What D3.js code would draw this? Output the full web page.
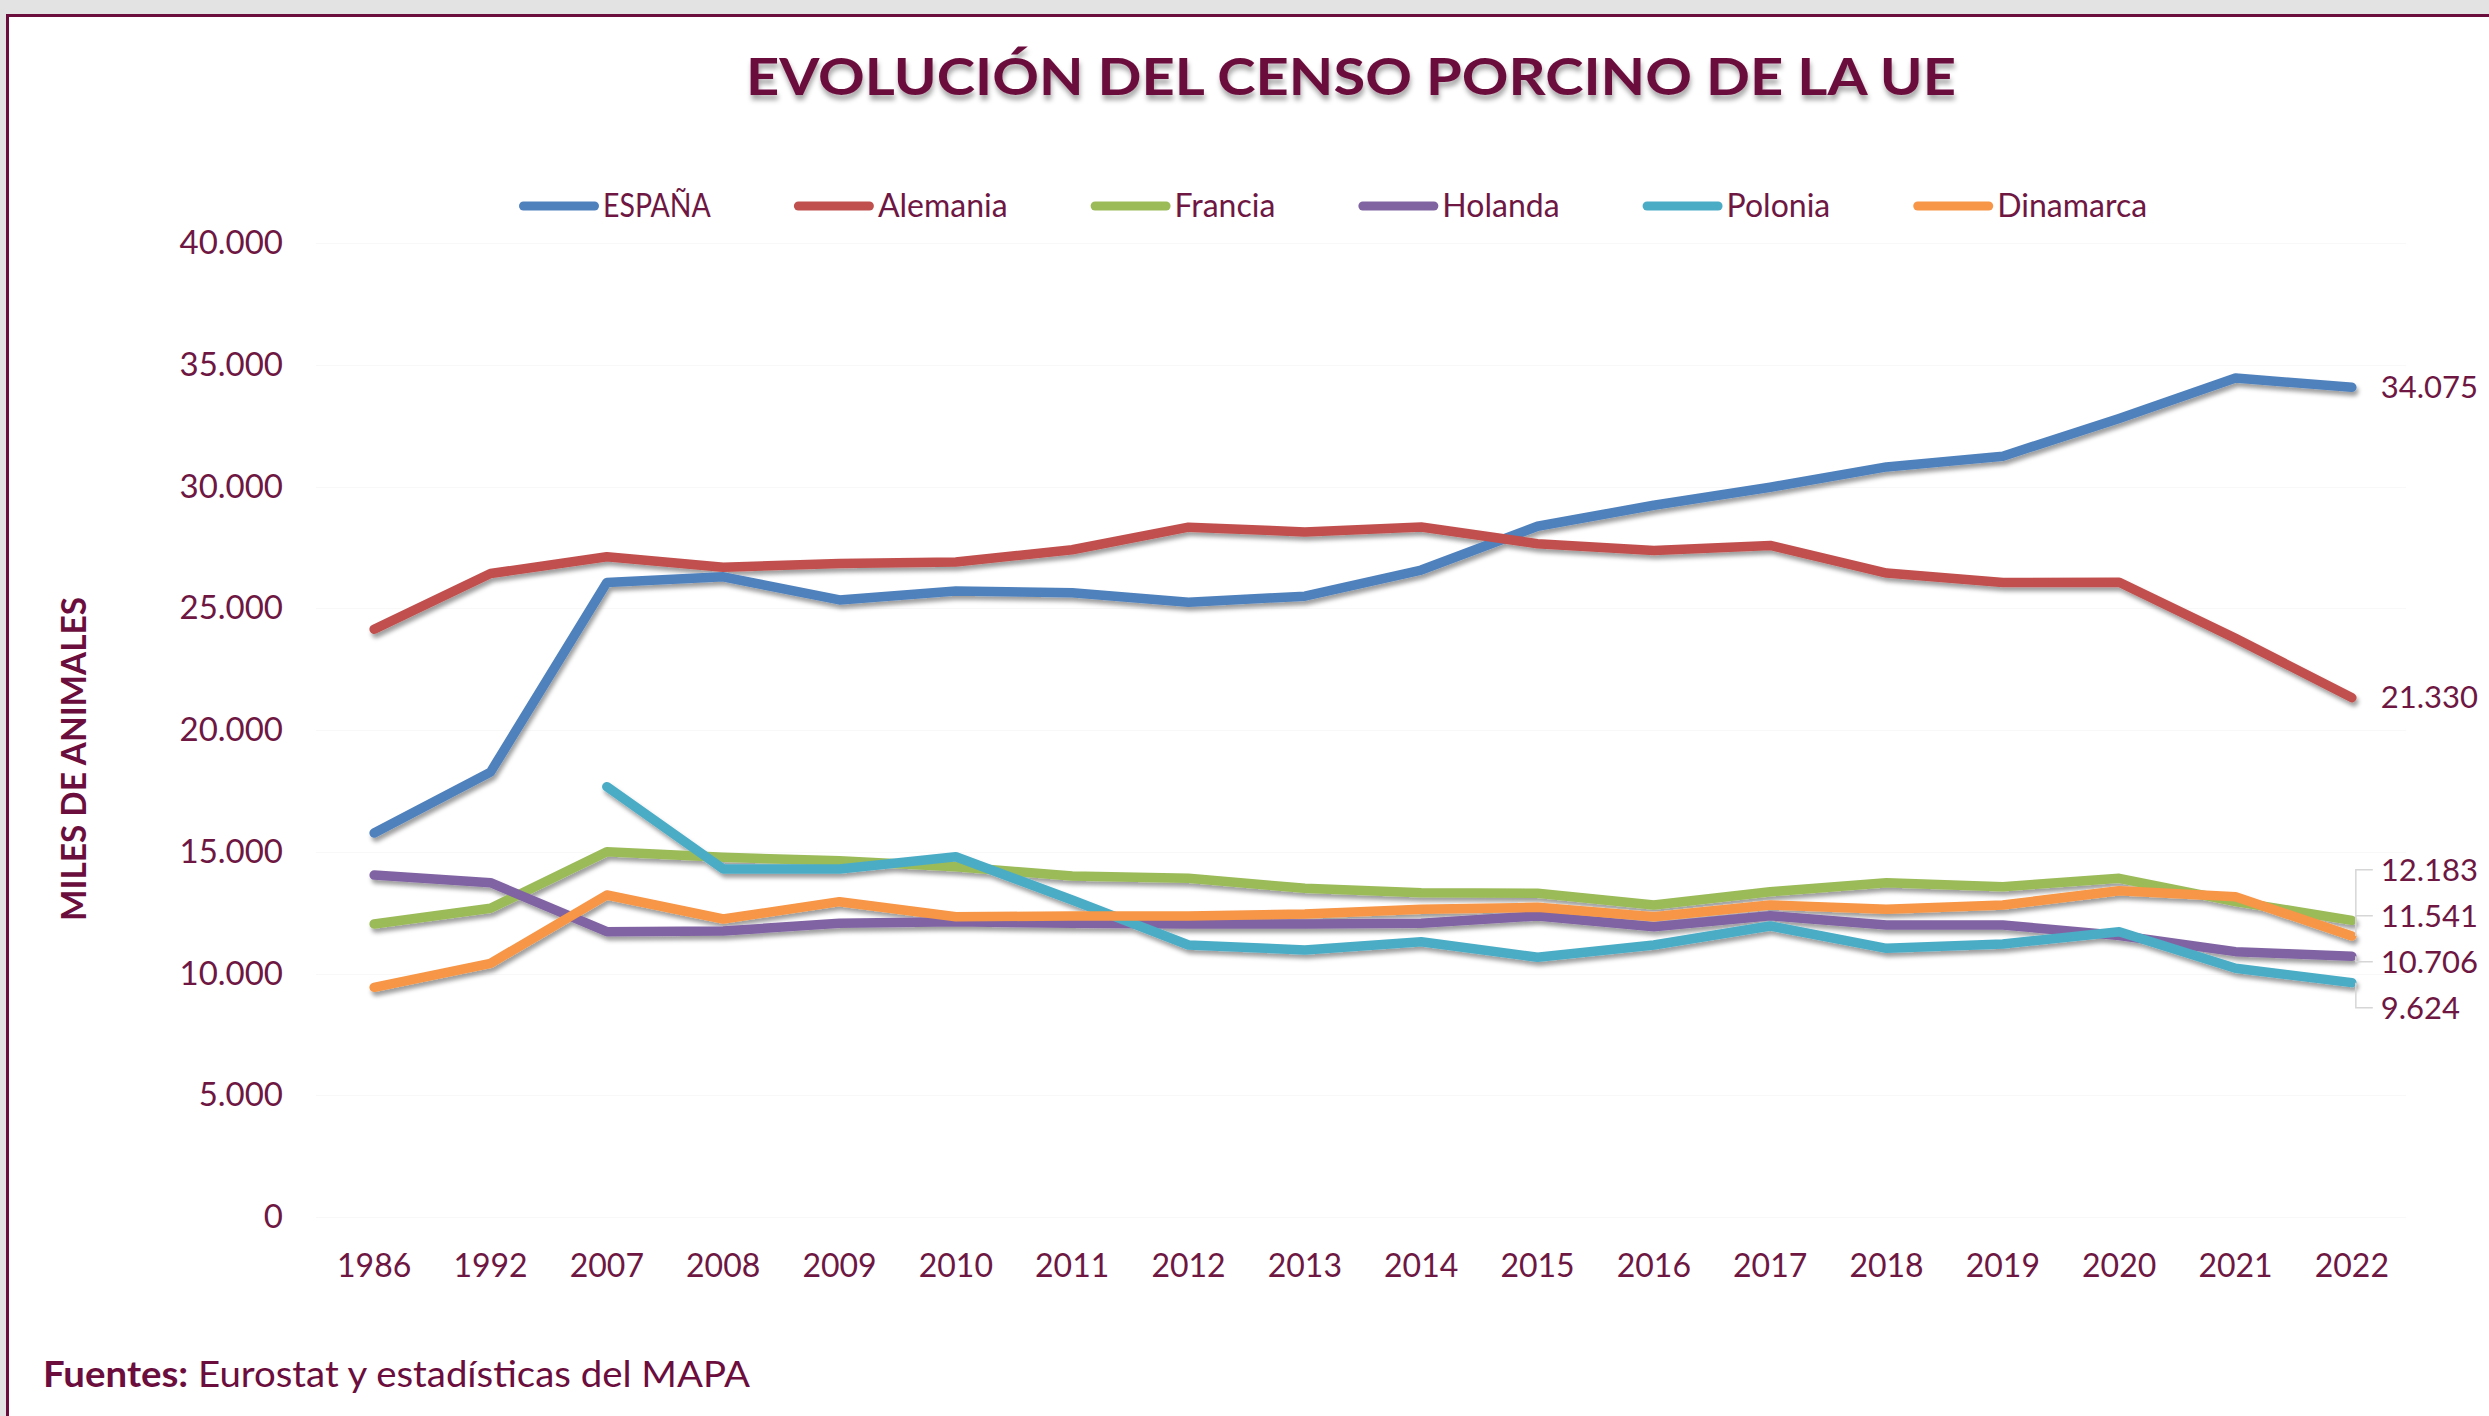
<!DOCTYPE html>
<html>
<head>
<meta charset="utf-8">
<script src="https://cdn.jsdelivr.net/npm/d3@7"></script>
<style>
  html, body { margin: 0; padding: 0; background: #ffffff; }
  svg { display: block; }
  text { font-family: Lato, "Open Sans", sans-serif; }
</style>
</head>
<body>
<svg id="chart" width="2489" height="1416"></svg>
<script>
// ---------- DATA ----------
const years = ["1986","1992","2007","2008","2009","2010","2011","2012","2013","2014","2015","2016","2017","2018","2019","2020","2021","2022"];
const seriesNames = ["ESPAÑA","Alemania","Francia","Holanda","Polonia","Dinamarca"];
const espana    = [15770, 18270, 26061, 26290, 25343, 25704, 25635, 25250, 25495, 26568, 28367, 29232, 29971, 30804, 31246, 32796, 34454, 34075];
const alemania  = [24140, 26426, 27113, 26687, 26841, 26901, 27402, 28331, 28133, 28339, 27652, 27376, 27578, 26445, 26053, 26070, 23762, 21330];
const francia   = [12033, 12677, 15002, 14772, 14632, 14386, 14004, 13909, 13498, 13320, 13292, 12813, 13361, 13729, 13566, 13909, 12950, 12183];
const holanda   = [14045, 13729, 11718, 11745, 12060, 12127, 12060, 12033, 12033, 12060, 12361, 11923, 12375, 11992, 11992, 11561, 10897, 10706];
const polonia   = [null, null, 17672, 14292, 14292, 14797, 13018, 11170, 10965, 11306, 10665, 11170, 11951, 11033, 11211, 11718, 10214, 9624];
const dinamarca = [9433, 10418, 13224, 12238, 12950, 12333, 12361, 12361, 12443, 12636, 12718, 12333, 12813, 12636, 12813, 13402, 13155, 11541];
const seriesValues = [espana, alemania, francia, holanda, polonia, dinamarca];
const seriesColors = ["#4F81BD","#C0504D","#9BBB59","#8064A2","#4BACC6","#F79646"];
const yTicks = [0, 5000, 10000, 15000, 20000, 25000, 30000, 35000, 40000];
const titleText = "EVOLUCIÓN DEL CENSO PORCINO DE LA UE";
const yTitleText = "MILES DE ANIMALES";
const sourceBold = "Fuentes:";
const sourceText = " Eurostat y estadísticas del MAPA";

// ---------- LAYOUT ----------
const maroon = "#6B0E3D";
const textCol = "#6E1743";
const plot = { left: 316, right: 2410, top: 243, bottom: 1217 };

const svg = d3.select("#chart");

const defs = svg.append("defs");
const sh = defs.append("filter").attr("id", "lineShadow")
  .attr("x", "-5%").attr("y", "-20%").attr("width", "110%").attr("height", "140%");
sh.append("feDropShadow").attr("dx", 2).attr("dy", 4).attr("stdDeviation", 2.2)
  .attr("flood-color", "#000").attr("flood-opacity", 0.38);
const tsh = defs.append("filter").attr("id", "titleShadow")
  .attr("x", "-5%").attr("y", "-30%").attr("width", "110%").attr("height", "170%");
tsh.append("feDropShadow").attr("dx", 1).attr("dy", 5).attr("stdDeviation", 2.5)
  .attr("flood-color", "#000").attr("flood-opacity", 0.35);

// frame (window chrome)
svg.append("rect").attr("x", 0).attr("y", 0).attr("width", 2489).attr("height", 14).attr("fill", "#e3e3e3");
svg.append("rect").attr("x", 0).attr("y", 0).attr("width", 6).attr("height", 1416).attr("fill", "#e3e3e3");
svg.append("rect").attr("x", 6).attr("y", 14).attr("width", 2483).attr("height", 3).attr("fill", maroon);
svg.append("rect").attr("x", 6).attr("y", 14).attr("width", 3).attr("height", 1402).attr("fill", maroon);

// scales
const x = d3.scaleBand().domain(years).range([plot.left, plot.right]);
const xc = d => x(d) + x.bandwidth() / 2;
const y = d3.scaleLinear().domain([0, 40000]).range([plot.bottom, plot.top]);
const loc = d3.formatLocale({ decimal: ",", thousands: ".", grouping: [3], currency: ["", "€"] });
const fmt = loc.format(",d");

// gridlines
svg.append("g").selectAll("line").data(yTicks).join("line")
  .attr("x1", plot.left).attr("x2", plot.right - 4)
  .attr("y1", d => Math.round(y(d)) + 0.5).attr("y2", d => Math.round(y(d)) + 0.5)
  .attr("stroke", "#f8f8f8").attr("stroke-width", 1);

// y axis
const yAxis = svg.append("g").attr("transform", `translate(${plot.left},0)`)
  .call(d3.axisLeft(y).tickValues(yTicks).tickFormat(fmt).tickSize(0).tickPadding(33));
yAxis.select(".domain").remove();
yAxis.selectAll("text").attr("font-size", 33).attr("fill", textCol)
  .style("font-family", "Lato, sans-serif");

// x axis
const xAxis = svg.append("g").attr("transform", `translate(0,${plot.bottom})`)
  .call(d3.axisBottom(x).tickSize(0).tickPadding(37));
xAxis.select(".domain").remove();
xAxis.selectAll("text").attr("font-size", 32).attr("fill", textCol)
  .style("font-family", "Lato, sans-serif");

// lines
const line = d3.line()
  .defined(d => d.v != null)
  .x(d => xc(d.year)).y(d => y(d.v));
const series = seriesNames.map((name, i) => ({
  name, color: seriesColors[i],
  points: years.map((yr, j) => ({ year: yr, v: seriesValues[i][j] }))
}));
svg.append("g").attr("filter", "url(#lineShadow)")
  .selectAll("path").data(series).join("path")
  .attr("d", s => line(s.points))
  .attr("fill", "none").attr("stroke", s => s.color)
  .attr("stroke-width", 9.5).attr("stroke-linecap", "round").attr("stroke-linejoin", "round");

// end labels with simple collision avoidance
const lastYear = years[years.length - 1];
const ends = series.map(s => {
  const v = s.points[s.points.length - 1].v;
  return { v, py: y(v) };
}).sort((a, b) => a.py - b.py);
const gap = 46;
let clusters = ends.map(e => ({ items: [e], center: e.py }));
let merged = true;
while (merged) {
  merged = false;
  for (let i = 0; i < clusters.length - 1; i++) {
    const a = clusters[i], b = clusters[i + 1];
    const aBottom = a.center + (a.items.length - 1) * gap / 2;
    const bTop = b.center - (b.items.length - 1) * gap / 2;
    if (bTop - aBottom < gap) {
      const items = a.items.concat(b.items);
      clusters.splice(i, 2, { items, center: d3.mean(items, d => d.py) - 10 });
      merged = true;
      break;
    }
  }
}
clusters.forEach(c => {
  c.items.forEach((it, k) => {
    it.ly = c.center + (k - (c.items.length - 1) / 2) * gap;
    it.leader = c.items.length > 1;
  });
});
const xEnd = xc(lastYear);
const lbl = svg.append("g");
lbl.selectAll("path").data(ends.filter(e => e.leader)).join("path")
  .attr("d", e => `M${xEnd + 4},${e.py}V${e.ly}H${xEnd + 21}`)
  .attr("fill", "none").attr("stroke", "#d6d6d6").attr("stroke-width", 1.5);
lbl.selectAll("text").data(ends).join("text")
  .attr("x", xEnd + 29).attr("y", e => e.ly).attr("dy", "0.35em")
  .attr("font-size", 31).attr("fill", textCol)
  .text(e => fmt(e.v));

// legend
const lg = svg.append("g");
let lx = 519;
const ly = 206;
series.forEach(s => {
  lg.append("line").attr("x1", lx + 4.5).attr("x2", lx + 75.5).attr("y1", ly).attr("y2", ly)
    .attr("stroke", s.color).attr("stroke-width", 9).attr("stroke-linecap", "round");
  const t = lg.append("text").attr("x", lx + 84).attr("y", ly).attr("dy", "0.35em")
    .attr("font-size", 32).attr("fill", textCol).text(s.name);
  const isCaps = s.name === s.name.toUpperCase();
  let w = t.node().getComputedTextLength();
  if (isCaps) {
    w = w * 0.89;
    t.attr("textLength", w).attr("lengthAdjust", "spacingAndGlyphs");
  }
  lx = lx + 84 + w + 83;
});

// title
svg.append("text").attr("x", 746).attr("y", 95)
  .attr("textLength", 1210).attr("lengthAdjust", "spacingAndGlyphs")
  .attr("font-size", 51).attr("font-weight", 700).attr("fill", maroon)
  .attr("filter", "url(#titleShadow)")
  .text(titleText);

// y title
svg.append("text")
  .attr("transform", "translate(86,759) rotate(-90)")
  .attr("text-anchor", "middle")
  .attr("font-size", 34).attr("font-weight", 700).attr("fill", maroon)
  .attr("textLength", 324).attr("lengthAdjust", "spacingAndGlyphs")
  .text(yTitleText);

// source
const src = svg.append("text").attr("x", 43).attr("y", 1387)
  .attr("font-size", 37).attr("fill", maroon)
  .attr("textLength", 707).attr("lengthAdjust", "spacingAndGlyphs");
src.append("tspan").attr("font-weight", 700).text(sourceBold);
src.append("tspan").attr("font-weight", 400).text(sourceText);
</script>
</body>
</html>
